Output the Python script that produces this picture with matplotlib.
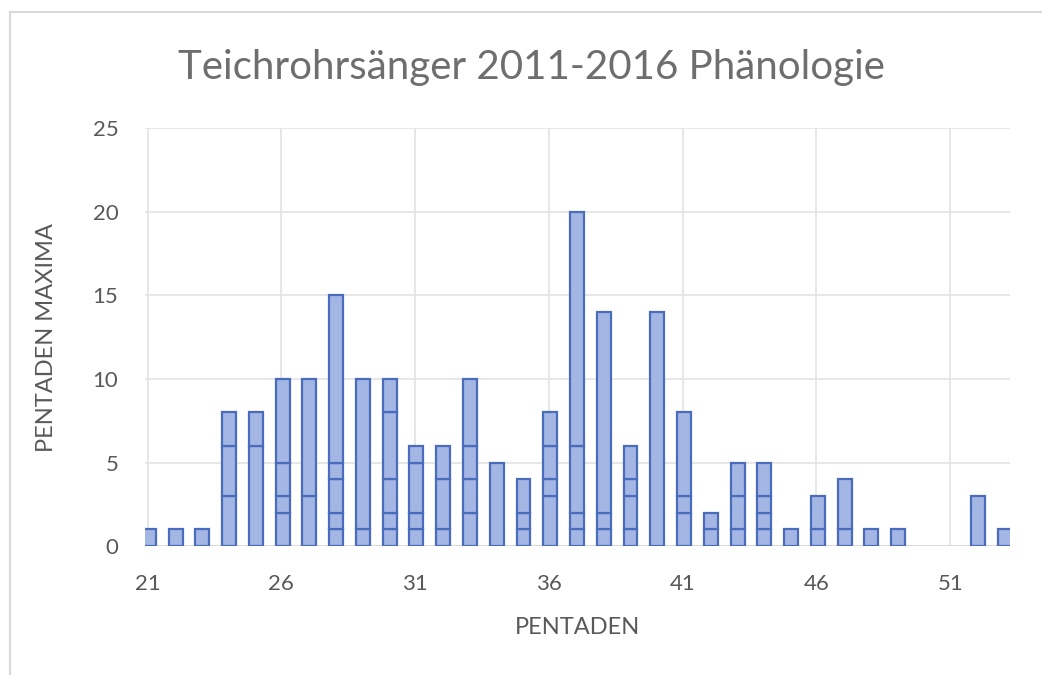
import matplotlib.pyplot as plt
import numpy as np

# Pentaden 21..53, stacked segments (bottom to top)
pentaden = list(range(21, 54))
seg1 = [1, 1, 1, 3, 6, 2, 3, 1, 1, 1, 1, 1, 2, 5, 1, 3, 1, 1, 1, 14, 2, 1, 1, 1, 1, 1, 1, 1, 1, 0, 0, 3, 1]
seg2 = [0, 0, 0, 3, 2, 1, 7, 1, 9, 1, 1, 3, 2, 0, 1, 1, 1, 1, 2, 0, 1, 1, 2, 1, 0, 2, 3, 0, 0, 0, 0, 0, 0]
seg3 = [0, 0, 0, 2, 0, 2, 0, 2, 0, 2, 3, 2, 2, 0, 2, 2, 4, 12, 1, 0, 5, 0, 2, 1, 0, 0, 0, 0, 0, 0, 0, 0, 0]
seg4 = [0, 0, 0, 0, 0, 5, 0, 1, 0, 4, 1, 0, 4, 0, 0, 2, 14, 0, 2, 0, 0, 0, 0, 2, 0, 0, 0, 0, 0, 0, 0, 0, 0]
seg5 = [0, 0, 0, 0, 0, 0, 0, 10, 0, 2, 0, 0, 0, 0, 0, 0, 0, 0, 0, 0, 0, 0, 0, 0, 0, 0, 0, 0, 0, 0, 0, 0, 0]
xticks = [21, 26, 31, 36, 41, 46, 51]
yticks = [0, 5, 10, 15, 20, 25]

plt.rcParams['font.family'] = ['Lato', 'DejaVu Sans']
grey = '#595959'

fig = plt.figure(figsize=(10.42, 6.75), dpi=100)
ax = fig.add_axes([0.139, 0.191, 0.830, 0.619])

x = np.array(pentaden) + 0.05
bottom = np.zeros(len(pentaden))
for seg in [seg1, seg2, seg3, seg4, seg5]:
    seg = np.array(seg)
    mask = seg > 0
    ax.bar(x[mask], seg[mask], bottom=bottom[mask], width=0.52,
           color='#a4b6e4', edgecolor='#4a6cbd', linewidth=1.6, zorder=3)
    bottom += seg

ax.set_xlim(20.9, 53.22)
ax.set_ylim(0, 25)
ax.set_xticks(xticks)
ax.set_yticks(yticks)
ax.grid(True, color='#e3e3e3', linewidth=1.2, zorder=0)
for s in ax.spines.values():
    s.set_visible(False)
ax.axhline(0, color='#d9d9d9', linewidth=1.2, zorder=2)
ax.tick_params(length=0, labelsize=16, labelcolor=grey)
ax.tick_params(axis='x', pad=20)
ax.tick_params(axis='y', pad=19)

ax.set_xlabel('PENTADEN', fontsize=17, color=grey, labelpad=17)
ax.set_ylabel('PENTADEN MAXIMA', fontsize=17, color=grey, labelpad=26)
fig.text(0.51, 0.9, 'Teichrohrsänger 2011-2016 Phänologie', fontsize=29,
         color='#6e6e6e', ha='center', va='center')

# light frame lines of the chart area (top and left)
fig.add_artist(plt.Line2D([0.0096, 1.0], [0.982, 0.982], color='#d9d9d9', linewidth=1.5))
fig.add_artist(plt.Line2D([0.0096, 0.0096], [0.0, 0.982], color='#d9d9d9', linewidth=1.5))

fig.savefig('out.png', dpi=100)
